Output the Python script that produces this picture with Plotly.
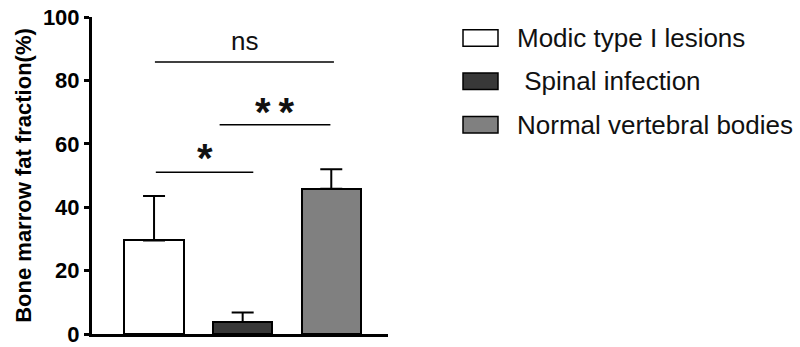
import plotly.graph_objects as go

categories = ["Modic type I lesions", "Spinal infection", "Normal vertebral bodies"]
legend_labels = ["Modic type I lesions", " Spinal infection", "Normal vertebral bodies"]
means = [29.5, 3.8, 45.8]
errors = [14.0, 3.0, 6.2]
colors = ["#ffffff", "#383838", "#808080"]
y_ticks = [0, 20, 40, 60, 80, 100]
y_title = "Bone marrow fat fraction(%)"

# significance comparisons: (line start, line end, line level, label, label x, label y)
sig_lines = [
    (0.02, 1.12, 51, "*", 0.57, 55.5),
    (0.74, 1.99, 66, "*\u2009*", 1.36, 70.0),
    (0.01, 2.03, 85.8, "ns", 1.02, 92.5),
]

FONT = "Liberation Sans, Arial"
fig = go.Figure()
for i, (cat, m, e, c) in enumerate(zip(categories, means, errors, colors)):
    fig.add_trace(go.Bar(
        x=[i], y=[m], name=cat, width=0.67,
        marker=dict(color=c, line=dict(color="black", width=2)),
        error_y=dict(type="data", array=[e], arrayminus=[0], symmetric=False,
                     color="black", thickness=2, width=11),
        showlegend=False,
    ))

for x0, x1, yv, lab, lx, ly in sig_lines:
    fig.add_shape(type="line", xref="x", yref="y", x0=x0, x1=x1, y0=yv, y1=yv,
                  line=dict(color="black", width=1.5))
    if lab == "ns":
        f = dict(family=FONT, size=26, color="#111111")
    else:
        f = dict(family=FONT, size=40, color="#111111", weight="bold")
    fig.add_annotation(x=lx, y=ly, xref="x", yref="y", text=lab, showarrow=False,
                       yanchor="middle", font=f)

# manual legend
leg_y = [0.934, 0.797, 0.660]
for lab, c, yy in zip(legend_labels, colors, leg_y):
    fig.add_shape(type="rect", xref="paper", yref="paper",
                  x0=1.2534, x1=1.3716, y0=yy - 0.026, y1=yy + 0.026,
                  fillcolor=c, line=dict(color="black", width=1.5))
    fig.add_annotation(xref="paper", yref="paper", x=1.43, y=yy, text=lab,
                       showarrow=False, xanchor="left", yanchor="middle",
                       font=dict(family=FONT, size=26, color="#111111"))

fig.update_layout(
    width=800, height=347,
    margin=dict(l=92, r=412, t=17, b=13),
    plot_bgcolor="white", paper_bgcolor="white",
    bargap=0,
    xaxis=dict(range=[-0.7, 2.64], showticklabels=False, ticks="",
               showline=True, linecolor="black", linewidth=3, showgrid=False,
               zeroline=False, fixedrange=True, automargin=False),
    yaxis=dict(range=[0, 100], tickvals=y_ticks, ticks="outside", ticklen=5,
               tickwidth=3, tickcolor="black", showline=True, linecolor="black",
               linewidth=3, showgrid=False, zeroline=False, automargin=False,
               ticklabeloverflow="allow",
               tickfont=dict(family=FONT, size=22, color="black", weight="bold"),
               title=dict(text=y_title, standoff=6,
                          font=dict(family=FONT, size=22, color="black", weight="bold"))),
    showlegend=False,
)

fig.write_html("out.html", config={"displayModeBar": False},
               post_script="document.body.style.margin='0';document.body.style.overflow='hidden';")
